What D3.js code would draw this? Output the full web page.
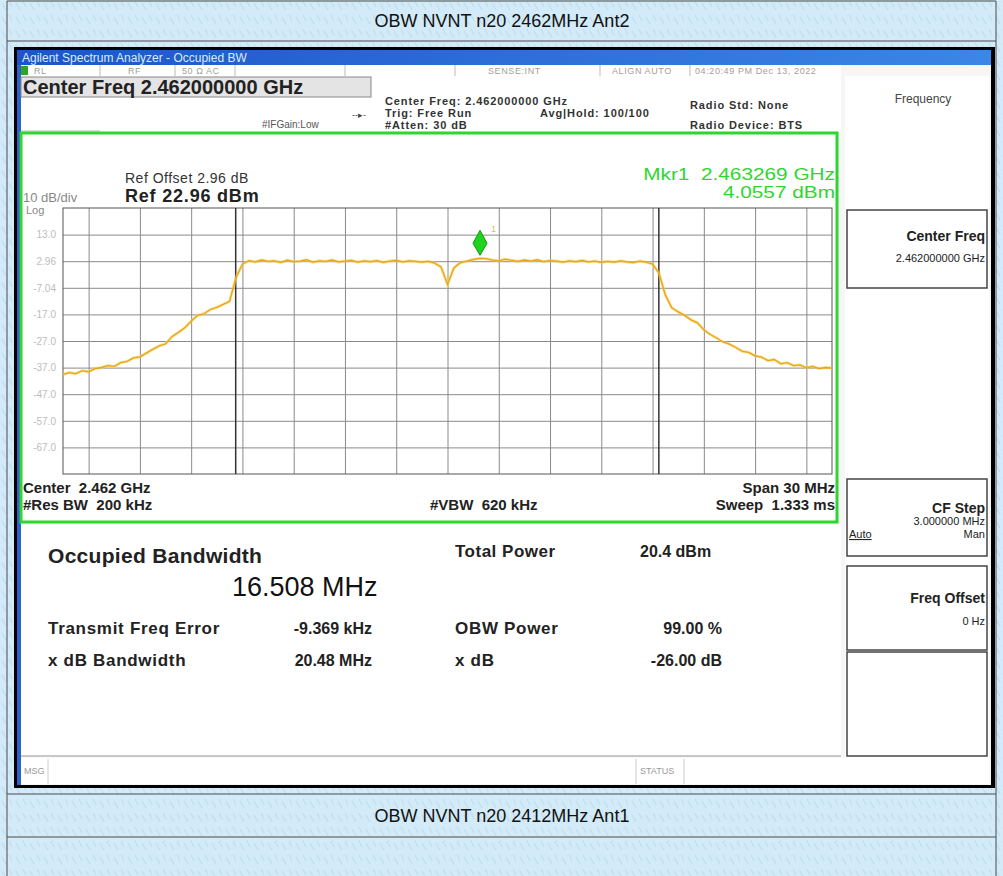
<!DOCTYPE html>
<html>
<head>
<meta charset="utf-8">
<script src="https://cdn.jsdelivr.net/npm/d3@7"></script>
<style>
  body { margin: 0; background: #d3ebf8; }
  svg { display: block; font-family: "Liberation Sans", Arial, sans-serif; }
  svg text { white-space: pre; }
</style>
</head>
<body>
<script>
// captions of the two table rows
const captions = ["OBW NVNT n20 2462MHz Ant2", "OBW NVNT n20 2412MHz Ant1"];

// sweep settings (MHz offsets from centre, dB)
const spanMHz = [-15, 15];
const refLevel = 22.96;
const dbPerDiv = 10;
const yTickLabels = ["13.0", "2.96", "-7.04", "-17.0", "-27.0", "-37.0", "-47.0", "-57.0", "-67.0"];

// trace, dBm, one point every 0.25 MHz from -15 to +15 MHz
const traceDbm = [
  -39.6, -38.9, -39.3, -38.2, -38.6, -37.4, -37.0, -36.3, -36.6, -35.2,
  -34.7, -33.4, -33.0, -31.6, -30.2, -28.9, -28.1, -25.4, -23.8, -22.1,
  -19.6, -17.4, -16.8, -15.2, -14.4, -13.3, -12.1, -3.2,
  1.8,
  3.2, 2.7, 3.4, 2.9, 3.1, 2.5, 3.3, 2.8, 3.0, 3.5,
  2.6, 3.1, 2.9, 3.4, 2.7, 3.0, 3.3, 2.6, 3.1, 2.8,
  3.2, 2.5, 3.0, 3.3, 2.7, 3.1, 2.9, 2.6, 2.9, 2.2,
  0.8, -5.8, 0.4, 2.4, 3.0, 3.6, 4.0, 3.9, 3.4, 3.1,
  3.7, 3.3, 2.9, 3.4, 3.0, 3.5, 2.8, 3.2, 3.0, 2.6,
  3.1, 2.8, 3.3, 2.7, 3.0, 2.5, 2.9, 2.6, 3.1, 2.7,
  2.4, 3.0, 2.6, 1.9,
  -1.5, -9.8, -14.6, -16.1, -17.4, -19.1, -20.2, -22.8, -24.6, -25.9,
  -27.4, -28.2, -29.5, -30.9, -31.3, -32.6, -33.1, -34.4, -34.0, -35.6,
  -35.2, -36.3, -36.0, -37.1, -36.6, -37.4, -37.0, -37.2
];

// marker 1 and OBW edges
const markerMHz = [1.269];
const markerDbm = [4.0557];
const obwEdgesMHz = [-8.263, 8.245];

// measurement table
const resultRows = [
  ["Transmit Freq Error", "-9.369 kHz", "OBW Power", "99.00 %"],
  ["x dB Bandwidth", "20.48 MHz", "x dB", "-26.00 dB"]
];

const W = 1003, H = 876;
const svg = d3.select("body").append("svg").attr("width", W).attr("height", H);

// small helper for the many labels
function txt(g, x, y, s, size, opt = {}) {
  return g.append("text").attr("x", x).attr("y", y).attr("font-size", size)
    .attr("font-weight", opt.bold ? "bold" : "normal")
    .attr("fill", opt.fill || "#222")
    .attr("text-anchor", opt.anchor || "start")
    .attr("letter-spacing", opt.ls || 0)
    .text(s);
}

// textured page background
const defs = svg.append("defs");
const pat = defs.append("pattern").attr("id", "tex").attr("width", 14).attr("height", 14)
  .attr("patternUnits", "userSpaceOnUse");
pat.append("rect").attr("width", 14).attr("height", 14).attr("fill", "#d3ebf8");
pat.append("path").attr("d", "M2,3 L6,10 M9,1 L12,7").attr("stroke", "#c1dff1").attr("stroke-width", 1.4);
svg.append("rect").attr("width", W).attr("height", H).attr("fill", "url(#tex)");

// table lines
const tbl = svg.append("g").attr("stroke", "#4a4a4a").attr("stroke-width", 1);
[1, 41, 794, 837].forEach(y => tbl.append("line").attr("x1", 7).attr("x2", 996).attr("y1", y).attr("y2", y));
[7, 996].forEach(x => tbl.append("line").attr("x1", x).attr("x2", x).attr("y1", 1).attr("y2", H));

svg.selectAll(".caption").data(captions).enter().append("text")
  .attr("class", "caption")
  .attr("x", 502).attr("y", (d, i) => i === 0 ? 27 : 822)
  .attr("text-anchor", "middle").attr("font-size", 18).attr("fill", "#111")
  .text(d => d);

// ---- analyzer screen ----
const scr = svg.append("g");
scr.append("rect").attr("x", 14).attr("y", 47).attr("width", 981).attr("height", 741).attr("fill", "#000");
scr.append("rect").attr("x", 17).attr("y", 50).attr("width", 974).attr("height", 735).attr("fill", "#f6f6f6");
scr.append("rect").attr("x", 17).attr("y", 50).attr("width", 4).attr("height", 735).attr("fill", "#2c62cc");

// title bar
const grad = defs.append("linearGradient").attr("id", "bar").attr("x1", 0).attr("x2", 1);
grad.append("stop").attr("offset", 0).attr("stop-color", "#1d55c8");
grad.append("stop").attr("offset", 1).attr("stop-color", "#3c86e6");
scr.append("rect").attr("x", 17).attr("y", 50).attr("width", 974).attr("height", 15).attr("fill", "url(#bar)");
txt(scr, 22, 62, "Agilent Spectrum Analyzer - Occupied BW", 12, { fill: "#d8ecff" });

// status row
scr.append("rect").attr("x", 21).attr("y", 65).attr("width", 820).attr("height", 11).attr("fill", "#fff");
scr.append("rect").attr("x", 21).attr("y", 66).attr("width", 7).attr("height", 9).attr("fill", "#2aa62a");
const statusCells = [[34, "RL"], [128, "RF"], [182, "50 Ω"], [206, "AC"], [488, "SENSE:INT"], [612, "ALIGN AUTO"], [695, "04:20:49 PM Dec 13, 2022"]];
statusCells.forEach(d => txt(scr, d[0], 74, d[1], 9, { fill: "#a0a0a0", ls: 0.6 }));
[100, 175, 235, 345, 455, 600, 690].forEach(x =>
  scr.append("line").attr("x1", x).attr("x2", x).attr("y1", 65).attr("y2", 76).attr("stroke", "#bbb"));

// header area
scr.append("rect").attr("x", 21).attr("y", 76).attr("width", 820).attr("height", 56).attr("fill", "#fff");
scr.append("rect").attr("x", 21).attr("y", 77).attr("width", 350).attr("height", 20)
  .attr("fill", "#e4e4e4").attr("stroke", "#888");
txt(scr, 23, 94, "Center Freq 2.462000000 GHz", 20, { bold: true });
scr.append("line").attr("x1", 21).attr("x2", 100).attr("y1", 131).attr("y2", 131).attr("stroke", "#bbb");
txt(scr, 262, 128, "#IFGain:Low", 10, { fill: "#555" });
txt(scr, 352, 118, "--▸-", 9, { fill: "#444" });
const hdr = [[385, 105, "Center Freq: 2.462000000 GHz"], [385, 117, "Trig: Free Run"], [540, 117, "Avg|Hold: 100/100"],
  [385, 129, "#Atten: 30 dB"], [690, 109, "Radio Std: None"], [690, 129, "Radio Device: BTS"]];
hdr.forEach(d => txt(scr, d[0], d[1], d[2], 11, { bold: true, fill: "#333", ls: 0.9 }));

// green measurement frame
scr.append("rect").attr("x", 21).attr("y", 133).attr("width", 816).attr("height", 389)
  .attr("fill", "#fff").attr("stroke", "#2fd62f").attr("stroke-width", 3);

// graticule
const gx0 = 63, gx1 = 832, gy0 = 208, gy1 = 474;
const x = d3.scaleLinear().domain(spanMHz).range([gx0, gx1]);
const y = d3.scaleLinear().domain([refLevel - 10 * dbPerDiv, refLevel]).range([gy1, gy0]);
const idx = d3.scaleLinear().domain([0, traceDbm.length - 1]).range(spanMHz);

const grid = scr.append("g");
grid.append("g").attr("transform", `translate(0,${gy1})`)
  .call(d3.axisBottom(x).ticks(10).tickSize(-(gy1 - gy0)).tickFormat(""))
  .call(g => g.select(".domain").remove())
  .call(g => g.selectAll("line").attr("stroke", "#8a8a8a"));
grid.append("g").attr("transform", `translate(${gx0},0)`)
  .call(d3.axisLeft(y).tickValues(d3.range(refLevel - 90, refLevel, 10)).tickSize(-(gx1 - gx0))
    .tickFormat((d, i) => yTickLabels[yTickLabels.length - 1 - i]))
  .call(g => g.select(".domain").remove())
  .call(g => g.selectAll("line").attr("stroke", "#8a8a8a"))
  .call(g => g.selectAll("text").attr("fill", "#bdbdbd").attr("font-size", 10).attr("x", -7)
    .attr("font-family", "Liberation Sans, Arial, sans-serif"));
grid.append("rect").attr("x", gx0).attr("y", gy0).attr("width", gx1 - gx0).attr("height", gy1 - gy0)
  .attr("fill", "none").attr("stroke", "#555");

// OBW edge lines
scr.selectAll(".edge").data(obwEdgesMHz).enter().append("line").attr("class", "edge")
  .attr("x1", d => x(d)).attr("x2", d => x(d)).attr("y1", gy0).attr("y2", gy1)
  .attr("stroke", "#333").attr("stroke-width", 1.5);

// trace
const line = d3.line().x((d, i) => x(idx(i))).y(d => y(d));
scr.append("path").datum(traceDbm).attr("d", line).attr("fill", "none")
  .attr("stroke", "#f7d24a").attr("stroke-width", 3).attr("opacity", 0.6);
scr.append("path").datum(traceDbm).attr("d", line).attr("fill", "none")
  .attr("stroke", "#e8a420").attr("stroke-width", 1.3);

// marker diamond
const mk = scr.selectAll(".mk").data(markerMHz).enter().append("g").attr("class", "mk")
  .attr("transform", (d, i) => `translate(${x(d)},${y(markerDbm[i])})`);
mk.append("path").attr("d", "M0,-3 L7,-15 L0,-28 L-7,-15 Z").attr("fill", "#1ed21e").attr("stroke", "#0d9a0d");
mk.append("text").attr("x", 11).attr("y", -26).attr("font-size", 9).attr("fill", "#d9c15a").text("1");

// labels inside frame
txt(scr, 125, 183, "Ref Offset 2.96 dB", 14, { fill: "#333", ls: 0.5 });
txt(scr, 23, 202, "10 dB/div", 13, { fill: "#888" });
txt(scr, 125, 202, "Ref 22.96 dBm", 18, { bold: true, ls: 0.8 });
txt(scr, 26, 214, "Log", 11, { fill: "#888" });
scr.append("text").attr("transform", "translate(835,180) scale(1.3,1)").attr("text-anchor", "end")
  .attr("font-size", 16).attr("fill", "#2fd62f").text("Mkr1  2.463269 GHz");
scr.append("text").attr("transform", "translate(835,198) scale(1.3,1)").attr("text-anchor", "end")
  .attr("font-size", 16).attr("fill", "#2fd62f").text("4.0557 dBm");
txt(scr, 23, 493, "Center  2.462 GHz", 15, { bold: true });
txt(scr, 23, 510, "#Res BW  200 kHz", 15, { bold: true });
txt(scr, 430, 510, "#VBW  620 kHz", 15, { bold: true });
txt(scr, 835, 493, "Span 30 MHz", 15, { bold: true, anchor: "end" });
txt(scr, 835, 510, "Sweep  1.333 ms", 15, { bold: true, anchor: "end" });

// result panel
scr.append("rect").attr("x", 21).attr("y", 525).attr("width", 820).attr("height", 230).attr("fill", "#fff");
txt(scr, 48, 563, "Occupied Bandwidth", 21, { bold: true, ls: 0.3 });
txt(scr, 232, 596, "16.508 MHz", 27, { fill: "#111" });
txt(scr, 455, 557, "Total Power", 17, { bold: true, ls: 0.5 });
txt(scr, 640, 557, "20.4 dBm", 16, { bold: true });
const rowY = [634, 666];
resultRows.forEach((r, i) => {
  txt(scr, 48, rowY[i], r[0], 17, { bold: true, ls: 0.7 });
  txt(scr, 372, rowY[i], r[1], 16, { bold: true, anchor: "end" });
  txt(scr, 455, rowY[i], r[2], 17, { bold: true, ls: 0.7 });
  txt(scr, 722, rowY[i], r[3], 16, { bold: true, anchor: "end" });
});

// bottom status bar
scr.append("line").attr("x1", 21).attr("x2", 841).attr("y1", 756).attr("y2", 756).attr("stroke", "#999");
scr.append("rect").attr("x", 21).attr("y", 758).attr("width", 968).attr("height", 26).attr("fill", "#fff");
txt(scr, 24, 774, "MSG", 9, { fill: "#999" });
txt(scr, 640, 774, "STATUS", 9, { fill: "#999" });
[48, 636, 684].forEach(xx =>
  scr.append("line").attr("x1", xx).attr("x2", xx).attr("y1", 759).attr("y2", 784).attr("stroke", "#ccc"));

// soft-key panel
scr.append("rect").attr("x", 845).attr("y", 76).attr("width", 144).attr("height", 682).attr("fill", "#fff");
const keys = [[210, 288], [479, 556], [566, 650], [652, 756]];
scr.selectAll(".key").data(keys).enter().append("rect").attr("class", "key")
  .attr("x", 847).attr("y", d => d[0]).attr("width", 140).attr("height", d => d[1] - d[0])
  .attr("fill", "#fff").attr("stroke", "#444").attr("stroke-width", 1.5);
txt(scr, 923, 103, "Frequency", 12, { anchor: "middle", fill: "#444" });
txt(scr, 985, 241, "Center Freq", 14, { bold: true, anchor: "end" });
txt(scr, 985, 262, "2.462000000 GHz", 11, { anchor: "end" });
txt(scr, 985, 513, "CF Step", 14, { bold: true, anchor: "end" });
txt(scr, 985, 525, "3.000000 MHz", 11, { anchor: "end" });
txt(scr, 985, 538, "Man", 11, { anchor: "end" });
txt(scr, 849, 538, "Auto", 11).attr("text-decoration", "underline");
txt(scr, 985, 603, "Freq Offset", 14, { bold: true, anchor: "end" });
txt(scr, 985, 625, "0 Hz", 11, { anchor: "end" });
</script>
</body>
</html>
